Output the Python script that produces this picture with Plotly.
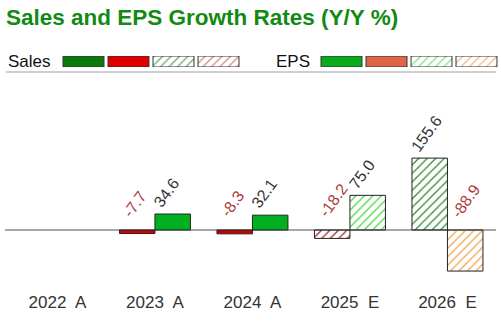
import plotly.graph_objects as go

W, H = 501, 321

# ---- data ----
years = ["2022  A", "2023  A", "2024  A", "2025  E", "2026  E"]
estimate = [False, False, False, True, True]
sales = [None, -7.7, -8.3, -18.2, 155.6]
eps = [None, 34.6, 32.1, 75.0, -88.9]

legend_sales_colors = ["#0a7a0a", "#e00000", "#6aa36a", "#d08080"]
legend_eps_colors = ["#0aaa1a", "#e0644a", "#7ee07e", "#f5b080"]
legend_shapes = ["", "", "/", "/"]

# colours for bars
SALES_POS, SALES_NEG = "#0a7a0a", "#cc0000"
SALES_POS_E, SALES_NEG_E = "#2a8a2a", "#992424"
EPS_POS, EPS_NEG = "#00b020", "#e0644a"
EPS_POS_E, EPS_NEG_E = "#3fd83f", "#f0a048"


def style(vals, pos, neg, pos_e, neg_e):
    colors, shapes = [], []
    for v, e in zip(vals, estimate):
        if v is None:
            colors.append("#ffffff"); shapes.append("")
            continue
        if e:
            colors.append(pos_e if v >= 0 else neg_e)
            shapes.append("/")
        else:
            colors.append(pos if v >= 0 else neg)
            shapes.append("")
    return colors, shapes


def px_x(a, b):
    return [a / W, b / W]


def px_y(top, bottom):
    return [(H - bottom) / H, (H - top) / H]


BW = 0.364
x = list(range(len(years)))

fig = go.Figure()

sc, ss = style(sales, SALES_POS, SALES_NEG, SALES_POS_E, SALES_NEG_E)
ec, es = style(eps, EPS_POS, EPS_NEG, EPS_POS_E, EPS_NEG_E)

PAT = dict(bgcolor="#ffffff", fillmode="replace", size=6, solidity=0.2)

fig.add_trace(go.Bar(
    x=x, y=sales, width=BW, offset=-BW, name="Sales",
    marker=dict(color=sc, line=dict(color="#222222", width=1),
                pattern=dict(shape=ss, **PAT)),
    showlegend=False, hoverinfo="skip"))
fig.add_trace(go.Bar(
    x=x, y=eps, width=BW, offset=0, name="EPS",
    marker=dict(color=ec, line=dict(color="#222222", width=1),
                pattern=dict(shape=es, **PAT)),
    showlegend=False, hoverinfo="skip"))

# value labels
for series, off in ((sales, -BW), (eps, 0)):
    for i, v in enumerate(series):
        if v is None:
            continue
        neg = v < 0
        fig.add_annotation(
            x=i + off, y=max(v, 0), xref="x", yref="y",
            text=f"{v:.1f}", textangle=-54, showarrow=False,
            xanchor="left", yanchor="bottom",
            xshift=-2 if neg else -7, yshift=7 if neg else 1,
            font=dict(size=16, color="#b03a3a" if neg else "#333333",
                      family="Liberation Sans, Arial, sans-serif"))

# legend swatches as small bar subplots
for xa, ya, cols in (("x2", "y2", legend_sales_colors),
                     ("x3", "y3", legend_eps_colors)):
    fig.add_trace(go.Bar(
        x=[0, 1, 2, 3], y=[1, 1, 1, 1], width=0.91, xaxis=xa, yaxis=ya,
        marker=dict(color=cols, line=dict(color="#333333", width=1),
                    pattern=dict(shape=legend_shapes, **PAT)),
        showlegend=False, hoverinfo="skip"))

hidden = dict(visible=False, fixedrange=True)
fig.update_layout(
    width=W, height=H,
    margin=dict(l=0, r=0, t=0, b=0),
    paper_bgcolor="white", plot_bgcolor="white",
    font=dict(family="Liberation Sans, Arial, sans-serif", color="#333333"),
    barmode="overlay",
    title=dict(text="<b>Sales and EPS Growth Rates (Y/Y %)</b>",
               xref="container", yref="container",
               x=6 / W, xanchor="left", y=1 - 17 / H, yanchor="middle",
               font=dict(size=22.5, color="#138a13",
                         family="Liberation Sans, Arial, sans-serif")),
    xaxis=dict(domain=px_x(5, 496), range=[-0.538, 4.498],
               tickvals=x, ticktext=years, showgrid=False, zeroline=False,
               showline=False, ticks="", fixedrange=True,
               tickfont=dict(size=17, color="#333333")),
    yaxis=dict(domain=px_y(80, 290), range=[-129.9, 324.7],
               showgrid=False, showticklabels=False, zeroline=True,
               zerolinecolor="#a8a8a8", zerolinewidth=2, fixedrange=True),
    xaxis2=dict(domain=px_x(61, 241), range=[-0.5, 3.5], anchor="y2", **hidden),
    yaxis2=dict(domain=px_y(56, 67), range=[0, 1], anchor="x2", **hidden),
    xaxis3=dict(domain=px_x(319, 499), range=[-0.5, 3.5], anchor="y3", **hidden),
    yaxis3=dict(domain=px_y(56, 67), range=[0, 1], anchor="x3", **hidden),
)

for txt, xl in (("Sales", 6), ("EPS", 274)):
    fig.add_annotation(text=txt, xref="paper", yref="paper", x=xl / W,
                       y=(H - 61.5) / H, xanchor="left", yanchor="middle",
                       showarrow=False,
                       font=dict(size=17, color="#111111"))

fig.add_shape(type="line", xref="paper", yref="paper",
              x0=6 / W, x1=496 / W, y0=(H - 72) / H, y1=(H - 72) / H,
              line=dict(color="#cfcfcf", width=2))

fig.write_html("out.html")
